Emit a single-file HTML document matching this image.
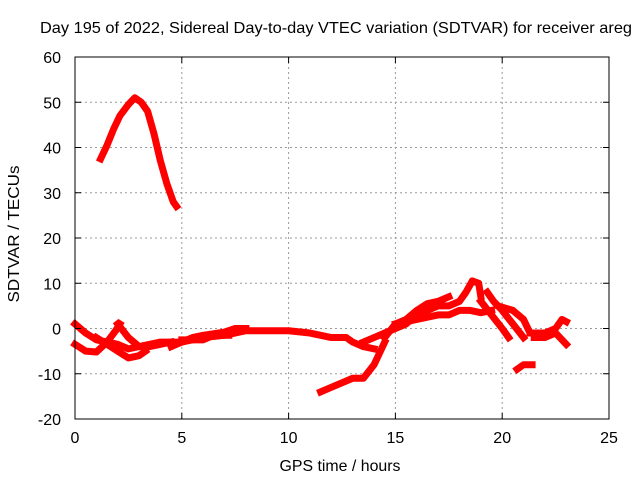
<!DOCTYPE html>
<html><head><meta charset="utf-8"><style>
body{margin:0;background:#fff}
svg text{font-family:"Liberation Sans",sans-serif;font-size:16px;fill:#000}
</style></head><body>
<svg id="chart" width="640" height="480" xmlns="http://www.w3.org/2000/svg">
<rect width="640" height="480" fill="#fff"/>
<text x="40" y="33" textLength="592" lengthAdjust="spacingAndGlyphs">Day 195 of 2022, Sidereal Day-to-day VTEC variation (SDTVAR) for receiver areg</text>
<g id="grid"></g>
<g id="series"></g>
<rect x="75" y="57" width="534" height="362" fill="none" stroke="#000" stroke-width="1"/>
<g id="ticks"></g>
<text x="340" y="471" text-anchor="middle" textLength="121" lengthAdjust="spacingAndGlyphs">GPS time / hours</text>
<text transform="translate(19,234) rotate(-90)" text-anchor="middle" textLength="137" lengthAdjust="spacingAndGlyphs">SDTVAR / TECUs</text>
</svg>
<script>
const xTicks=[0,5,10,15,20,25];
const yTicks=[-20,-10,0,10,20,30,40,50,60];
const segA=[[1.2,37.5],[1.5,40.5],[1.8,44],[2.1,47],[2.5,49.5],[2.8,51],[3.1,50],[3.4,48],[3.7,43],[4.0,37],[4.3,32],[4.6,28],[4.75,27]];
const segB=[[0,1],[0.5,-1],[1,-2.5],[1.5,-3],[2,-3.5],[2.5,-4.5],[3,-4],[3.5,-3.5],[4,-3],[5,-3],[6,-2],[7,-1.5],[8,-0.5],[9,-0.5],[10,-0.5],[11,-1],[12,-2],[12.7,-2],[13,-3],[13.5,-4],[14,-4.5]];
const segC=[[0,-3.5],[0.5,-5],[1,-5.2],[1.5,-3],[1.9,-0.5],[2.1,1]];
const segD=[[1,-2],[1.5,-3.5],[2,-5],[2.5,-6.5],[3,-6],[3.3,-5]];
const segE=[[2,1],[2.5,-2],[3,-4],[3.5,-4],[4,-3.5],[4.5,-3]];
const segF=[[4.5,-4],[5,-3],[5.5,-2],[6,-1.5],[7,-0.8],[7.5,0],[8,0]];
const segF2=[[5,-2.5],[6,-2.5],[6.5,-1.5],[7.2,-1.5]];
const segG=[[11.5,-14],[12,-13],[12.5,-12],[13,-11],[13.5,-11],[14,-8],[14.3,-5],[14.5,-3]];
const segH=[[13.5,-3],[14,-2],[14.5,-1],[15,0],[15.5,1],[16,3],[16.5,4],[17,5],[17.5,5],[18,6],[18.3,8],[18.6,10.5],[18.9,10],[19,7]];
const segH2=[[14.5,-2],[15,1],[15.5,2],[16,4],[16.5,5.5],[17,6],[17.5,7]];
const segI=[[15,1],[16,2],[17,3],[17.5,3],[18,4],[18.5,4],[19,3.5],[19.5,4]];
const segJ=[[19.3,8],[19.6,6],[20,4],[20.5,1],[21,-2]];
const segK=[[19.8,5],[20.5,4],[21,2],[21.2,0]];
const segL=[[19,6],[19.5,3],[20,0],[20.3,-2]];
const segM=[[21.3,-1],[22,-1],[22.5,0],[22.8,2],[23,1.5]];
const segM2=[[21.5,-2],[22,-2],[22.5,-1],[23,-3.5]];
const segN=[[20.7,-9],[21,-8],[21.4,-8]];
const allSegs=[segA,segB,segC,segD,segE,segF,segF2,segG,segH,segH2,segI,segJ,segK,segL,segM,segM2,segN];
const NS="http://www.w3.org/2000/svg";
function px(x){return 75+x*(534/25);}
function py(v){return 57+(60-v)*(362/80);}
const grid=document.getElementById('grid'),ticks=document.getElementById('ticks'),ser=document.getElementById('series');
function mk(tag,attrs,parent){const e=document.createElementNS(NS,tag);for(const k in attrs)e.setAttribute(k,attrs[k]);parent.appendChild(e);return e;}
xTicks.forEach(t=>{
  const x=px(t);
  if(t>0&&t<25){const g=mk('line',{x1:x,x2:x,y1:57,y2:419,stroke:'#999','stroke-dasharray':'2,3'},grid);
  
  }
  mk('line',{x1:x,x2:x,y1:419,y2:413,stroke:'#000'},ticks);
  mk('line',{x1:x,x2:x,y1:57,y2:63,stroke:'#000'},ticks);
  const tx=mk('text',{x:x,y:443,'text-anchor':'middle'},ticks);tx.textContent=t;
  
  
});
yTicks.forEach(t=>{
  const y=py(t);
  if(t>-20&&t<60){const g=mk('line',{x1:75,x2:609,y1:y,y2:y,stroke:'#999','stroke-dasharray':'2,3'},grid);
  
  }
  mk('line',{x1:75,x2:81,y1:y,y2:y,stroke:'#000'},ticks);
  mk('line',{x1:603,x2:609,y1:y,y2:y,stroke:'#000'},ticks);
  const tx=mk('text',{x:61,y:y+6,'text-anchor':'end'},ticks);tx.textContent=t;
  
  
});
allSegs.forEach(s=>{
  const p=mk('polyline',{points:s.map(d=>px(d[0])+','+py(d[1])).join(' '),fill:'none',stroke:'#f00','stroke-width':7,'stroke-linejoin':'round','stroke-linecap':'square'},ser);
  
  
});
</script>
</body></html>
